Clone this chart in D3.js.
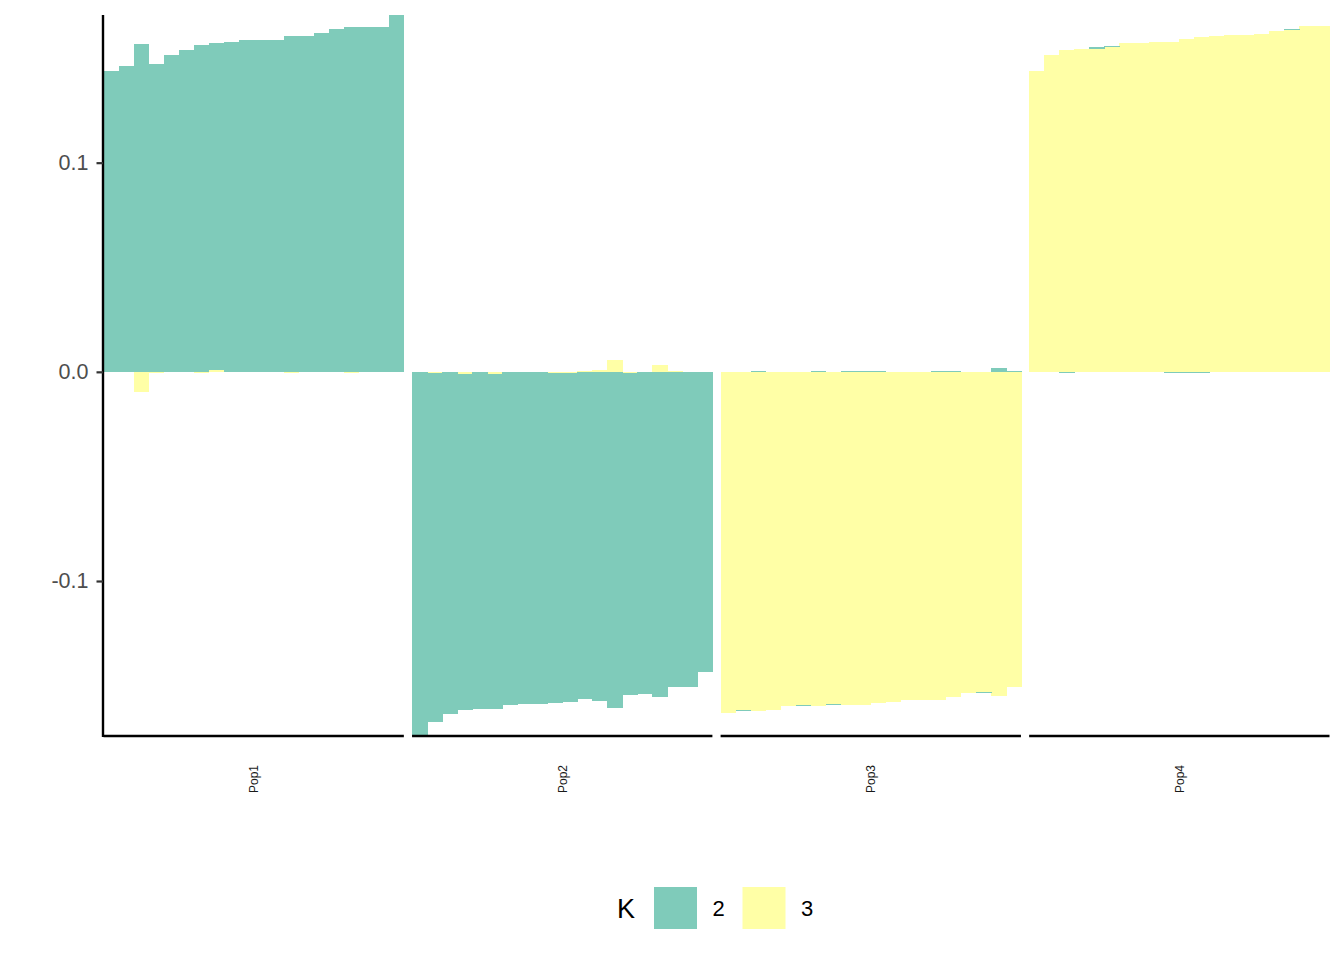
<!DOCTYPE html>
<html>
<head>
<meta charset="utf-8">
<script src="https://cdn.jsdelivr.net/npm/d3@7"></script>
<style>
  html, body { margin: 0; padding: 0; background: #ffffff; }
  svg { display: block; font-family: "Liberation Sans", Arial, sans-serif; }
</style>
</head>
<body>
<svg id="chart" width="1344" height="960"></svg>
<script>
// ---- data ----
const populations = ["Pop1", "Pop2", "Pop3", "Pop4"];
const clusters = ["2", "3"];
const yTicks = [-0.1, 0.0, 0.1];

const k2Pop1 = [0.1438, 0.1462, 0.1567, 0.1473, 0.1514, 0.1538, 0.1562, 0.1562, 0.1576, 0.1586,
                0.1586, 0.1586, 0.1605, 0.1605, 0.1619, 0.1639, 0.1648, 0.1648, 0.1648, 0.1706];
const k3Pop1 = [0, 0, -0.0096, -0.0004, 0, 0, -0.0004, 0.0010, 0, 0,
                0, 0, -0.0004, 0, 0, 0, -0.0004, 0, 0, 0];

const k2Pop2 = [-0.1741, -0.1669, -0.1636, -0.1607, -0.1612, -0.1602, -0.1593, -0.1588, -0.1588, -0.1578,
                -0.1573, -0.1564, -0.1574, -0.1607, -0.1541, -0.1540, -0.1554, -0.1506, -0.1506, -0.1435];
const k3Pop2 = [0, -0.0005, 0, -0.0010, 0, -0.0010, 0, 0, 0, -0.0005,
                -0.0005, 0.0005, 0.0010, 0.0057, -0.0004, 0, 0.0034, 0.0004, 0, 0];

const k2Pop3 = [0, -0.0004, 0.0003, 0, 0, -0.0003, 0.0006, -0.0004, 0.0003, 0.0005,
                0.0003, 0, 0, 0, 0.0004, 0.0004, 0, -0.0004, 0.0019, 0.0003];
const k3Pop3 = [-0.1630, -0.1616, -0.1620, -0.1615, -0.1596, -0.1593, -0.1596, -0.1587, -0.1591, -0.1591,
                -0.1582, -0.1578, -0.1568, -0.1569, -0.1569, -0.1553, -0.1534, -0.1530, -0.1548, -0.1505];

const k2Pop4 = [0, 0, -0.0005, 0, 0.0010, 0.0002, 0, 0, 0, -0.0005,
                -0.0005, -0.0005, 0, 0.0002, 0, 0, 0, 0.0005, 0, 0];
const k3Pop4 = [0.1438, 0.1514, 0.1538, 0.1543, 0.1543, 0.1554, 0.1572, 0.1572, 0.1578, 0.1576,
                0.1591, 0.1600, 0.1605, 0.1610, 0.1610, 0.1615, 0.1629, 0.1634, 0.1653, 0.1653];

const k2ByPop = [k2Pop1, k2Pop2, k2Pop3, k2Pop4];
const k3ByPop = [k3Pop1, k3Pop2, k3Pop3, k3Pop4];

// ---- build table ----
const panels = populations.map((pop, pi) => {
  const rows = k2ByPop[pi].map((v, i) => ({ ind: pop + "_" + (i + 1), "2": v, "3": k3ByPop[pi][i] }));
  // ggplot stacks the last level closest to zero
  const series = d3.stack().keys(["3", "2"]).offset(d3.stackOffsetDiverging)(rows);
  return { pop, rows, series };
});

const colors = d3.scaleOrdinal().domain(clusters).range(["#7fcbba", "#ffffa6"]);

// ---- layout ----
const svg = d3.select("#chart");
const plotLeft = 103.5, plotRight = 1329.5, plotTop = 15, plotBottom = 736;
const gap = 8.2;
const panelW = (plotRight - plotLeft - gap * (populations.length - 1)) / populations.length;

const allVals = panels.flatMap(p => p.series.flatMap(s => s.flatMap(d => [d[0], d[1]])));
const y = d3.scaleLinear().domain(d3.extent(allVals)).range([plotBottom, plotTop]);

panels.forEach((p, pi) => {
  const x0 = plotLeft + pi * (panelW + gap);
  const x = d3.scaleBand().domain(p.rows.map(r => r.ind)).range([x0, x0 + panelW]).padding(0);
  const g = svg.append("g").attr("shape-rendering", "crispEdges");
  p.series.forEach(s => {
    g.selectAll(null).data(s).join("rect")
      .attr("x", d => x(d.data.ind))
      .attr("width", x.bandwidth() + 0.6)
      .attr("y", d => y(Math.max(d[0], d[1])))
      .attr("height", d => Math.abs(y(d[0]) - y(d[1])))
      .attr("fill", colors(s.key));
  });
  // x axis line (bottom)
  const xa = svg.append("g").attr("transform", `translate(0,${plotBottom})`)
    .call(d3.axisBottom(x).tickSize(0).tickFormat(""));
  xa.select(".domain").attr("stroke", "#000").attr("stroke-width", 2.4).attr("d", `M${x0},0H${x0 + panelW}`);
  // strip label
  svg.append("text")
    .attr("transform", `translate(${x0 + panelW / 2 + 4.5},779) rotate(-90)`)
    .attr("text-anchor", "middle")
    .attr("font-size", 12)
    .attr("fill", "#1a1a1a")
    .text(p.pop);
});

// y axis
const ya = svg.append("g").attr("transform", `translate(${plotLeft - 0.5},0)`)
  .call(d3.axisLeft(y).tickValues(yTicks).tickFormat(d3.format(".1f")).tickSize(6.5).tickPadding(8));
ya.select(".domain").attr("stroke", "#000").attr("stroke-width", 2.4)
  .attr("d", `M0,${plotTop}V${plotBottom + 1}`);
ya.selectAll(".tick line").attr("stroke", "#333333").attr("stroke-width", 2.2);
ya.selectAll(".tick text").attr("font-size", 21.5).attr("fill", "#4d4d4d")
  .attr("font-family", "'Liberation Sans', Arial, sans-serif")
  .text(d => d === 0 ? "0.0" : d3.format(".1f")(d).replace("−", "-"));

// legend
const lg = svg.append("g");
lg.append("text").attr("x", 617).attr("y", 918).attr("font-size", 27).attr("fill", "#000").text("K");
const keyX = [654, 742.5];
clusters.forEach((c, i) => {
  lg.append("rect").attr("x", keyX[i]).attr("y", 887).attr("width", 43).attr("height", 42).attr("fill", colors(c));
  lg.append("text").attr("x", keyX[i] + 58.5).attr("y", 916).attr("font-size", 22).attr("fill", "#000").text(c);
});
</script>
</body>
</html>
